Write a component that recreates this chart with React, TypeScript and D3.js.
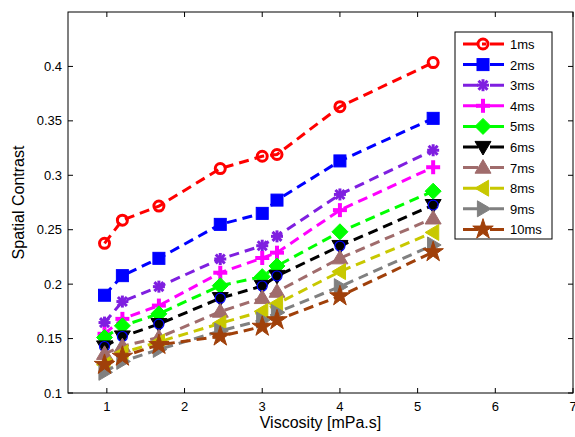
import React from "react";
import * as d3 from "d3";

const viscosity = [0.97, 1.2, 1.67, 2.46, 3.0, 3.19, 4.0, 5.2];
const seriesNames = ["1ms", "2ms", "3ms", "4ms", "5ms", "6ms", "7ms", "8ms", "9ms", "10ms"];
const s1 = [0.2375, 0.2588, 0.2717, 0.3062, 0.3175, 0.3191, 0.363, 0.4035];
const s2 = [0.1898, 0.2078, 0.2237, 0.2549, 0.265, 0.2772, 0.3132, 0.3523];
const s3 = [0.1647, 0.184, 0.1977, 0.2231, 0.2353, 0.2439, 0.2824, 0.323];
const s4 = [0.1544, 0.1681, 0.1803, 0.2105, 0.224, 0.2289, 0.268, 0.3074];
const s5 = [0.151, 0.1617, 0.1727, 0.1986, 0.2069, 0.2167, 0.2481, 0.2854];
const s6 = [0.1427, 0.1519, 0.1633, 0.1871, 0.1983, 0.2075, 0.235, 0.2726];
const s7 = [0.136, 0.143, 0.151, 0.1748, 0.1873, 0.1931, 0.2238, 0.2604];
const s8 = [0.126, 0.137, 0.147, 0.164, 0.175, 0.182, 0.2115, 0.2475];
const s9 = [0.119, 0.129, 0.14, 0.157, 0.167, 0.174, 0.1977, 0.236];
const s10 = [0.126, 0.1335, 0.1443, 0.152, 0.161, 0.167, 0.189, 0.2295];
const seriesValues = [s1, s2, s3, s4, s5, s6, s7, s8, s9, s10];
const colors = ["#ff0000", "#0000ff", "#7f1fe0", "#ff00ff", "#00ff00", "#000000", "#a06c6c", "#c8c800", "#808080", "#a0400a"];
const markers = ["circle", "square", "asterisk", "plus", "diamond", "tdown", "tup", "tleft", "tright", "star"];
const xTicks = [1, 2, 3, 4, 5, 6, 7];
const yTicks = [0.1, 0.15, 0.2, 0.25, 0.3, 0.35, 0.4];

const W = 575, H = 437;
const L = 68, R = 573, T = 12, B = 393;
const FONT = "'Liberation Sans', Arial, Helvetica, sans-serif";

function Marker({ type, x, y, color }: { type: string; x: number; y: number; color: string }) {
  const s = 6;
  switch (type) {
    case "circle":
      return <circle cx={x} cy={y} r={5} fill="none" stroke={color} strokeWidth={3} />;
    case "square":
      return <rect x={x - s} y={y - s} width={2 * s} height={2 * s} fill={color} stroke={color} strokeWidth={1} />;
    case "asterisk":
      return (
        <g stroke={color} strokeWidth={3} strokeLinecap="butt">
          <line x1={x - 6} y1={y} x2={x + 6} y2={y} />
          <line x1={x} y1={y - 6} x2={x} y2={y + 6} />
          <line x1={x - 4.5} y1={y - 4.5} x2={x + 4.5} y2={y + 4.5} />
          <line x1={x - 4.5} y1={y + 4.5} x2={x + 4.5} y2={y - 4.5} />
        </g>
      );
    case "plus":
      return (
        <g stroke={color} strokeWidth={4}>
          <line x1={x - 7} y1={y} x2={x + 7} y2={y} />
          <line x1={x} y1={y - 7} x2={x} y2={y + 7} />
        </g>
      );
    case "diamond": {
      const d = 8;
      return <path d={`M${x},${y - d}L${x + d},${y}L${x},${y + d}L${x - d},${y}Z`} fill={color} stroke={color} strokeWidth={1} />;
    }
    case "tdown": {
      const d = 8;
      return <path d={`M${x - d},${y - d * 0.7}L${x + d},${y - d * 0.7}L${x},${y + d}Z`} fill={color} stroke={color} strokeWidth={1} />;
    }
    case "tup": {
      const d = 8;
      return <path d={`M${x - d},${y + d * 0.7}L${x + d},${y + d * 0.7}L${x},${y - d}Z`} fill={color} stroke={color} strokeWidth={1} />;
    }
    case "tleft": {
      const d = 8;
      return <path d={`M${x + d * 0.7},${y - d}L${x + d * 0.7},${y + d}L${x - d},${y}Z`} fill={color} stroke={color} strokeWidth={1} />;
    }
    case "tright": {
      const d = 8;
      return <path d={`M${x - d * 0.7},${y - d}L${x - d * 0.7},${y + d}L${x + d},${y}Z`} fill={color} stroke={color} strokeWidth={1} />;
    }
    case "star": {
      const sym = d3.symbol().type(d3.symbolStar).size(130)();
      return <path d={sym || ""} transform={`translate(${x},${y})`} fill={color} stroke={color} strokeWidth={1} />;
    }
  }
  return null;
}

export default function App() {
  const x = d3.scaleLinear().domain([0.5, 7]).range([L, R]);
  const y = d3.scaleLinear().domain([0.1, 0.45]).range([B, T]);
  const line = d3.line<[number, number]>().x((d) => x(d[0])).y((d) => y(d[1]));

  const legX = 455, legY = 32, legW = 97, legH = 207;
  const rowH = 20.6;

  return (
    <svg width={W} height={H} style={{ position: "absolute", left: 0, top: 0, background: "#fff" }} fontFamily={FONT}>
      <rect x={0} y={0} width={W} height={H} fill="#fff" />
      {seriesValues.map((vals, i) => {
        const pts = viscosity.map((v, j) => [v, vals[j]] as [number, number]);
        return (
          <g key={seriesNames[i]}>
            <path d={line(pts) || ""} fill="none" stroke={colors[i]} strokeWidth={3} strokeDasharray="10,6" />
            {pts.map((p, j) => (
              <Marker key={j} type={markers[i]} x={x(p[0])} y={y(p[1])} color={colors[i]} />
            ))}
            {i === 5 &&
              pts.map((p, j) => (
                <circle key={"c" + j} cx={x(p[0])} cy={y(p[1])} r={5} fill="none" stroke="#0000ff" strokeWidth={1.2} />
              ))}
          </g>
        );
      })}
      <rect x={L} y={T} width={R - L} height={B - T} fill="none" stroke="#000" strokeWidth={1} />
      {xTicks.map((t) => (
        <g key={"x" + t}>
          <line x1={x(t)} x2={x(t)} y1={B} y2={B - 5} stroke="#000" />
          <line x1={x(t)} x2={x(t)} y1={T} y2={T + 5} stroke="#000" />
          <text x={x(t)} y={B + 18} fontSize={13} textAnchor="middle" fill="#000">{t}</text>
        </g>
      ))}
      {yTicks.map((t) => (
        <g key={"y" + t}>
          <line x1={L} x2={L + 5} y1={y(t)} y2={y(t)} stroke="#000" />
          <line x1={R} x2={R - 5} y1={y(t)} y2={y(t)} stroke="#000" />
          <text x={L - 6} y={y(t) + 4.5} fontSize={13} textAnchor="end" fill="#000">{String(t)}</text>
        </g>
      ))}
      <text x={(L + R) / 2} y={428} fontSize={16} textAnchor="middle" fill="#000">Viscosity [mPa.s]</text>
      <text transform={`translate(24,${(T + B) / 2}) rotate(-90)`} fontSize={16} textAnchor="middle" fill="#000">Spatial Contrast</text>
      <rect x={legX} y={legY} width={legW} height={legH} fill="#fff" stroke="#000" strokeWidth={1} />
      {seriesNames.map((n, i) => {
        const cy = legY + 12 + i * rowH;
        return (
          <g key={"l" + n}>
            <line x1={463} x2={504} y1={cy} y2={cy} stroke={colors[i]} strokeWidth={3} strokeDasharray="15,4,4,4,15" />
            <Marker type={markers[i]} x={483} y={cy} color={colors[i]} />
            <text x={510} y={cy + 5} fontSize={13} fill="#000">{n}</text>
          </g>
        );
      })}
    </svg>
  );
}
